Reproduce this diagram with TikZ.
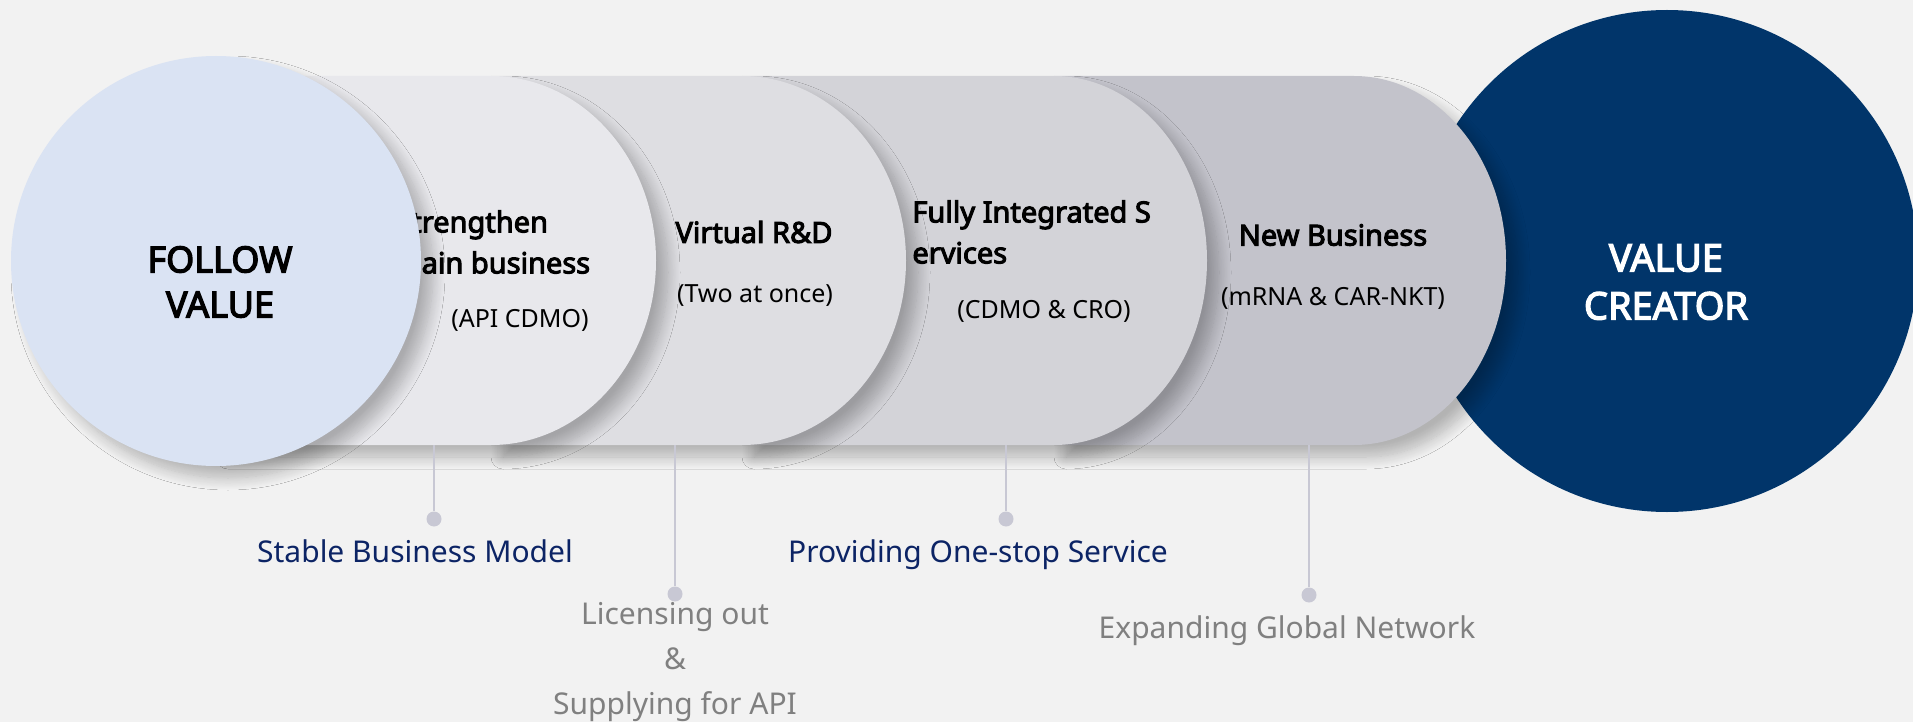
\documentclass[tikz,border=0pt]{standalone}
\usepackage{fontspec}
\setmainfont{Noto Sans}[BoldFont={Noto Sans}, BoldFeatures={FakeBold=3.5}]
\usepackage{tikz}
\usetikzlibrary{
  positioning,
  shadows.blur
}
\definecolor{bgcol}{HTML}{F2F2F2}
\definecolor{followcol}{HTML}{DAE3F3}
\definecolor{stageA}{HTML}{E8E8EC}
\definecolor{stageB}{HTML}{DEDEE2}
\definecolor{stageC}{HTML}{D3D3D8}
\definecolor{stageD}{HTML}{C3C3CB}
\definecolor{navy}{HTML}{01356A}
\definecolor{goalblue}{HTML}{0C2465}
\definecolor{goalgray}{HTML}{808080}
\definecolor{leadcol}{HTML}{C8C8D4}
\tikzset{
  bigword/.style={inner sep=0pt, align=center, font=\bfseries\fontsize{18}{22.5}\selectfont},
  stagetitle/.style={inner sep=0pt, align=left, font=\bfseries\fontsize{14.5}{20.5}\selectfont},
  stagesub/.style={inner sep=0pt, font=\fontsize{12.5}{15}\selectfont},
  goal/.style={inner sep=0pt, align=center, font=\fontsize{15}{22.5}\selectfont},
  leader/.style={draw=leadcol, line width=1.1pt},
  leaddot/.style={circle, fill=leadcol, inner sep=0pt, minimum size=7.5pt},
  softshadow/.style={blur shadow={shadow xshift=6pt, shadow yshift=-6pt,
    shadow blur radius=6pt, shadow blur steps=14, shadow opacity=26}}
}

\begin{document}
\begin{tikzpicture}[x=0.5pt, y=-0.5pt]
      \useasboundingbox (0,0) rectangle (1913,722);
      \fill[bgcol] (0,0) rectangle (1913,722);
      \clip (0,0) rectangle (1913,722);

      % value creator, behind the last stage
      \node[circle, fill=navy, minimum size=251pt] (creator) at (1667,261) {};
      \node[bigword, text=white, font=\bfseries\fontsize{19}{24}\selectfont] (creatortxt) at (1666,282) {VALUE\\CREATOR};

      % stage 4: new business
      \fill[stageD, softshadow] (1054,76) -- (1354,76) arc[start angle=-90, end angle=90, x radius=152, y radius=184.5] -- (1054,445) -- cycle;
      \node[stagetitle] (newbiz) at (1333,235) {New Business};
      \node[stagesub] (newbizsub) at (1333,298) {(mRNA \& CAR-NKT)};

      % stage 3: fully integrated services
      \fill[stageC, softshadow] (742,76) -- (1054,76) arc[start angle=-90, end angle=90, x radius=153, y radius=184.5] -- (742,445) -- cycle;
      \node[stagetitle, anchor=west] (fis) at (912,232) {Fully Integrated S\\ervices};
      \node[stagesub] (fissub) at (1044,311) {(CDMO \& CRO)};

      % stage 2: virtual r&d
      \fill[stageB, softshadow] (491,76) -- (742,76) arc[start angle=-90, end angle=90, x radius=164, y radius=184.5] -- (491,445) -- cycle;
      \node[stagetitle] (vrd) at (754,232) {Virtual R\&D};
      \node[stagesub] (vrdsub) at (755,296) {(Two at once)};

      % stage 1: strengthen main business
      \fill[stageA, softshadow] (216,76) -- (491,76) arc[start angle=-90, end angle=90, x radius=165, y radius=184.5] -- (216,445) -- cycle;
      \node[stagetitle, anchor=west] (strong) at (395,242) {Strengthen\\Main business};
      \node[stagesub] (strongsub) at (520,320) {(API CDMO)};

      % follow value, on top
      \node[circle, fill=followcol, minimum size=205pt, softshadow] (follow) at (216,261) {};
      \node[bigword] (followtxt) at (220,282) {FOLLOW\\VALUE};

      % leaders
      \coordinate (top1) at (434,445);
      \coordinate (top2) at (675,445);
      \coordinate (top3) at (1006,445);
      \coordinate (top4) at (1309,445);
      \node[leaddot] (dot1) at (434,519) {};
      \node[leaddot] (dot2) at (675,594) {};
      \node[leaddot] (dot3) at (1006,519) {};
      \node[leaddot] (dot4) at (1309,595) {};
      \draw[leader] (top1) -- (dot1);
      \draw[leader] (top2) -- (dot2);
      \draw[leader] (top3) -- (dot3);
      \draw[leader] (top4) -- (dot4);

      % goals
      \node[goal, text=goalblue] (stable) at (415,551) {Stable Business Model};
      \node[goal, text=goalgray] (licence) at (675,662) {Licensing out\\\&\\Supplying for API};
      \node[goal, text=goalblue] (onestop) at (978,555) {Providing One-stop Service};
      \node[goal, text=goalgray] (network) at (1287,631) {Expanding Global Network};
\end{tikzpicture}
\end{document}
